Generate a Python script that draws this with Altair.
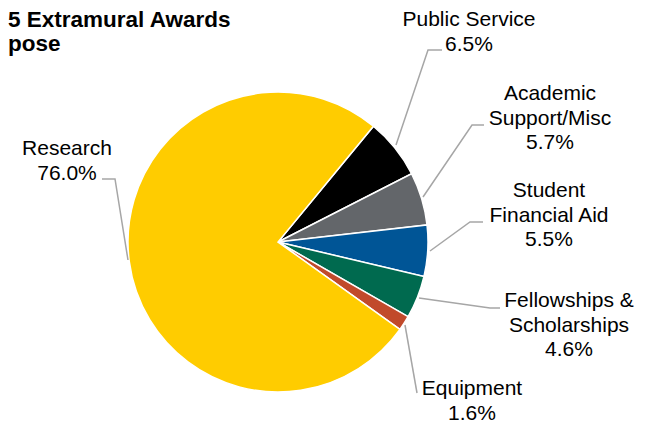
import math
import altair as alt
import pandas as pd

# ---- data ----
categories = ["Public Service", "Academic Support/Misc", "Student Financial Aid",
              "Fellowships & Scholarships", "Equipment", "Research"]
shares = [6.5, 5.7, 5.5, 4.6, 1.6, 76.0]
label_names = [["Public Service"], ["Academic", "Support/Misc"], ["Student", "Financial Aid"],
               ["Fellowships &", "Scholarships"], ["Equipment"], ["Research"]]
# the reference title is cropped at the left edge; this is the part that is visible
title_lines = ["5 Extramural Awards", "pose"]

# ---- styles / layout ----
colors = ["#000000", "#63666A", "#005596", "#006A4F", "#C14A2B", "#FFCC00"]
FONT = "Liberation Sans"
FS = 21
CX, CY, R = 270, 234, 150
start = math.radians(39.5)

# label anchor (center x, first baseline y) in svg pixels
label_pos = [(461, 18), (542, 92), (541, 189), (561, 299), (464, 387), (59, 147)]
LH = 24.5
# leader polylines in svg pixels
leaders = [
    [(388, 137), (420, 42), (434, 42)],
    [(415, 189), (464, 117), (476, 117)],
    [(422, 243), (462, 214), (475, 214)],
    [(411, 290), (482, 300), (492, 300)],
    [(397, 317), (409, 385)],
    [(120, 252), (107, 171), (94, 171)],
]

pie_df = pd.DataFrame({"cat": categories, "share": shares, "idx": list(range(len(categories)))})

rows = []
for i, (names, (x, y)) in enumerate(zip(label_names, label_pos)):
    lines = names + [f"{shares[i]:.1f}%"]
    for j, t in enumerate(lines):
        rows.append({"x": x, "y": y + j * LH, "t": t})
lab_df = pd.DataFrame(rows)

lrows = []
for g, pts in enumerate(leaders):
    for s, (x, y) in enumerate(pts):
        lrows.append({"g": g, "s": s, "x": x, "y": y})
lead_df = pd.DataFrame(lrows)

title_df = pd.DataFrame({"t": title_lines, "x": [0, 0], "y": [19, 43]})

pie = alt.Chart(pie_df).mark_arc(stroke="white", strokeWidth=1.5).encode(
    theta=alt.Theta("share:Q", stack=True,
                    scale=alt.Scale(range=[start, start + 2 * math.pi])),
    order=alt.Order("idx:Q"),
    color=alt.Color("cat:N", scale=alt.Scale(domain=categories, range=colors), legend=None),
    x=alt.value(CX), y=alt.value(CY), radius=alt.value(R),
)

lead = alt.Chart(lead_df).mark_line(color="#A6A6A6", strokeWidth=1.5).encode(
    x=alt.X("x:Q", scale=None), y=alt.Y("y:Q", scale=None),
    detail="g:N", order="s:Q",
)

labels = alt.Chart(lab_df).mark_text(font=FONT, fontSize=FS, color="#000000",
                                      align="center", baseline="alphabetic").encode(
    x=alt.X("x:Q", scale=None), y=alt.Y("y:Q", scale=None), text="t:N",
)

title = alt.Chart(title_df).mark_text(font=FONT, fontSize=22.5, fontWeight="bold", color="#000000",
                                      align="left", baseline="alphabetic").encode(
    x=alt.X("x:Q", scale=None), y=alt.Y("y:Q", scale=None), text="t:N",
)

chart = alt.layer(pie, lead, labels, title).properties(
    width=642, height=415, padding=0,
    autosize=alt.AutoSizeParams(type="none"),
).configure_view(stroke=None)

chart.save("out.html", embed_options={"renderer": "svg", "actions": False})
